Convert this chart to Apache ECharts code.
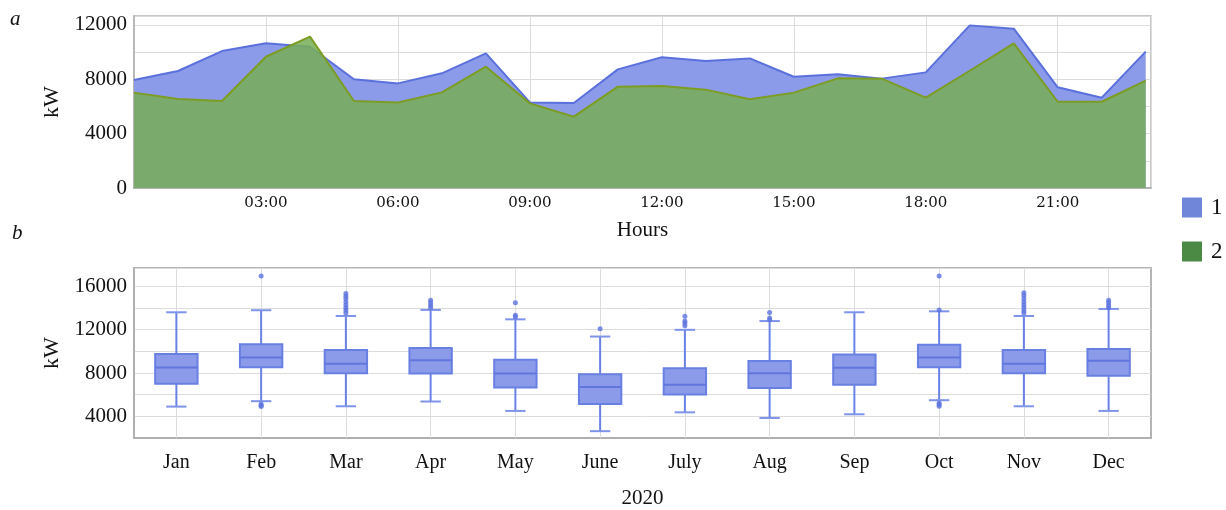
<!DOCTYPE html>
<html><head><meta charset="utf-8">
<script src="https://cdn.jsdelivr.net/npm/echarts@6/dist/echarts.min.js"></script>
<style>html,body{margin:0;padding:0;background:#fff}#c{width:1226px;height:510px}</style>
</head><body><div id="c"></div><script>
// ---- data: panel a (hourly load) ----
const hours = [0,1,2,3,4,5,6,7,8,9,10,11,12,13,14,15,16,17,18,19,20,21,22,23];
const load1 = [7950,8610,10080,10650,10400,8000,7700,8440,9910,6300,6260,8730,9620,9350,9540,8190,8370,8050,8510,11970,11730,7410,6650,10040];
const load2 = [7020,6550,6400,9660,11140,6400,6300,7040,8930,6230,5250,7460,7510,7240,6530,7020,8070,8050,6650,8630,10650,6350,6350,7900];
// ---- data: panel b (monthly box plots, 2020) ----
const months = ['Jan','Feb','Mar','Apr','May','June','July','Aug','Sep','Oct','Nov','Dec'];
const whiskerLow  = [4900,5400,4930,5370,4500,2630,4370,3850,4190,5490,4930,4500];
const q1          = [7020,8540,7980,7950,6670,5150,6020,6610,6920,8540,7980,7760];
const median      = [8510,9440,8850,9190,7950,6700,6920,7980,8480,9440,8850,9130];
const q3          = [9750,10650,10130,10310,9230,7890,8450,9100,9720,10620,10130,10220];
const whiskerHigh = [13610,13800,13270,13830,12960,11370,11990,12800,13610,13700,13270,13920];
const outliers = [
  ['Feb',16970],['Feb',5150],['Feb',5010],['Feb',4900],
  ['Mar',15350],['Mar',15100],['Mar',14850],['Mar',14570],['Mar',14290],['Mar',14040],['Mar',13790],['Mar',13540],
  ['Apr',14730],['Apr',14480],['Apr',14230],['Apr',14040],
  ['May',14480],['May',13330],['May',13180],
  ['June',12090],
  ['July',13240],['July',12800],['July',12610],['July',12360],
  ['Aug',13580],['Aug',13080],['Aug',12930],
  ['Oct',16970],['Oct',13830],['Oct',5240],['Oct',5090],['Oct',4930],
  ['Nov',15410],['Nov',15160],['Nov',14850],['Nov',14570],['Nov',14290],['Nov',14040],['Nov',13760],['Nov',13540],
  ['Dec',14730],['Dec',14480],['Dec',14230],['Dec',14040]
];
const legendNames = ['1','2'];

const SERIF = 'Liberation Serif';
const TXT = '#111';
const GRIDC = '#dcdcdc';
const BORDER = '#b4b4b4';

const series1 = hours.map((h,i)=>[h, load1[i]]);
const series2 = hours.map((h,i)=>[h, load2[i]]);
const boxData = months.map((m,i)=>[m, whiskerLow[i], q1[i], median[i], q3[i], whiskerHigh[i]]);

function pad(n){ return (n<10?'0':'')+n; }

function renderBox(params, api){
  const x = api.value(0);
  const lo = api.coord([x, api.value(1)]);
  const b1 = api.coord([x, api.value(2)]);
  const md = api.coord([x, api.value(3)]);
  const b3 = api.coord([x, api.value(4)]);
  const hi = api.coord([x, api.value(5)]);
  const band = api.size([1, 0])[0];
  const bw = band * 0.50, cw = band * 0.24;
  const cx = lo[0];
  const wStyle = {stroke:'#6a82e6', lineWidth:2};
  const cStyle = {stroke:'#7e93ea', lineWidth:2};
  return {type:'group', children:[
    {type:'line', shape:{x1:cx,y1:hi[1],x2:cx,y2:b3[1]}, style:wStyle},
    {type:'line', shape:{x1:cx,y1:b1[1],x2:cx,y2:lo[1]}, style:wStyle},
    {type:'line', shape:{x1:cx-cw/2,y1:hi[1],x2:cx+cw/2,y2:hi[1]}, style:cStyle},
    {type:'line', shape:{x1:cx-cw/2,y1:lo[1],x2:cx+cw/2,y2:lo[1]}, style:cStyle},
    {type:'rect', shape:{x:cx-bw/2,y:b3[1],width:bw,height:b1[1]-b3[1]}, style:{fill:'#8c9be9',stroke:'#6980e3',lineWidth:2}},
    {type:'line', shape:{x1:cx-bw/2,y1:md[1],x2:cx+bw/2,y2:md[1]}, style:{stroke:'#6176dd',lineWidth:2}}
  ]};
}

const chart = echarts.init(document.getElementById('c'), null, {renderer:'canvas'});
chart.setOption({
  animation:false,
  backgroundColor:'#fff',
  textStyle:{fontFamily:SERIF, color:TXT},
  graphic:[
    {type:'text', left:10, top:9, style:{text:'a', font:'italic 21px "Liberation Serif"', fill:TXT}},
    {type:'text', left:12, top:223, style:{text:'b', font:'italic 21px "Liberation Serif"', fill:TXT}}
  ],
  legend:{
    orient:'vertical', left:1177, top:191, itemWidth:20, itemHeight:20, itemGap:21,
    icon:'rect', selectedMode:false,
    textStyle:{fontFamily:SERIF, fontSize:23, color:TXT, padding:[0,0,0,4]},
    data:[
      {name:legendNames[0], icon:'rect', itemStyle:{color:'#6f86d9', borderWidth:0}},
      {name:legendNames[1], icon:'rect', itemStyle:{color:'#4a8a44', borderWidth:0}}
    ]
  },
  grid:[
    {left:134, right:75, top:16, bottom:322, show:true, borderColor:BORDER, borderWidth:1.5, backgroundColor:'transparent'},
    {left:134, right:75, top:268, bottom:72, show:true, borderColor:BORDER, borderWidth:2, backgroundColor:'transparent'}
  ],
  xAxis:[
    {type:'value', gridIndex:0, min:0, max:23.12, interval:3,
      name:'Hours', nameLocation:'middle', nameGap:32,
      nameTextStyle:{fontFamily:SERIF, fontSize:21, color:TXT},
      axisLine:{show:true, lineStyle:{color:'#a8a8a8', width:1.5}},
      axisTick:{show:false},
      axisLabel:{fontFamily:'DejaVu Serif', fontSize:15, color:TXT, margin:8, showMaxLabel:false,
        formatter:v=> (v>0 && v<23) ? pad(v)+':00' : ''},
      splitLine:{show:true, lineStyle:{color:GRIDC, width:1}}
    },
    {type:'category', gridIndex:1, data:months, boundaryGap:true,
      name:'2020', nameLocation:'middle', nameGap:50,
      nameTextStyle:{fontFamily:SERIF, fontSize:21, color:TXT},
      axisLine:{show:true, lineStyle:{color:'#b0b0b0', width:2}},
      axisTick:{show:true, alignWithLabel:true, inside:true, length:170, lineStyle:{color:GRIDC, width:1}},
      axisLabel:{fontFamily:SERIF, fontSize:20, color:TXT, margin:15},
      splitLine:{show:false}
    }
  ],
  yAxis:[
    {type:'value', gridIndex:0, min:0, max:12660, interval:2000,
      name:'kW', nameLocation:'middle', nameRotate:90, nameGap:69,
      nameTextStyle:{fontFamily:SERIF, fontSize:22, color:TXT},
      axisLine:{show:true, lineStyle:{color:'#b0b0b0', width:1.5}},
      axisTick:{show:false},
      axisLabel:{fontFamily:SERIF, fontSize:21, color:TXT, margin:7, showMaxLabel:false,
        formatter:v=> (v%4000===0) ? String(v) : ''},
      splitLine:{show:true, lineStyle:{color:GRIDC, width:1}}
    },
    {type:'value', gridIndex:1, min:2000, max:17700, interval:2000,
      name:'kW', nameLocation:'middle', nameRotate:90, nameGap:69,
      nameTextStyle:{fontFamily:SERIF, fontSize:22, color:TXT},
      axisLine:{show:true, lineStyle:{color:'#b0b0b0', width:1.5}},
      axisTick:{show:false},
      axisLabel:{fontFamily:SERIF, fontSize:21, color:TXT, margin:7, showMaxLabel:false,
        formatter:v=> (v%4000===0) ? String(v) : ''},
      splitLine:{show:true, lineStyle:{color:GRIDC, width:1}}
    }
  ],
  series:[
    {name:legendNames[0], type:'line', xAxisIndex:0, yAxisIndex:0, data:series1, symbol:'none', z:2,
      lineStyle:{color:'#5a70dc', width:2}, itemStyle:{color:'#6f86d9'},
      areaStyle:{color:'#8c9be9', opacity:1}},
    {name:legendNames[1], type:'line', xAxisIndex:0, yAxisIndex:0, data:series2, symbol:'none', z:3,
      lineStyle:{color:'#7c9c22', width:2}, itemStyle:{color:'#4a8a44'},
      areaStyle:{color:'rgba(119,174,88,0.86)', opacity:1}},
    {type:'custom', xAxisIndex:1, yAxisIndex:1, data:boxData, renderItem:renderBox,
      encode:{x:0, y:[1,2,3,4,5]}, z:3},
    {type:'scatter', xAxisIndex:1, yAxisIndex:1, data:outliers, symbol:'circle', symbolSize:5,
      itemStyle:{color:'#5b73e0'}, z:4}
  ]
});
</script></body></html>
